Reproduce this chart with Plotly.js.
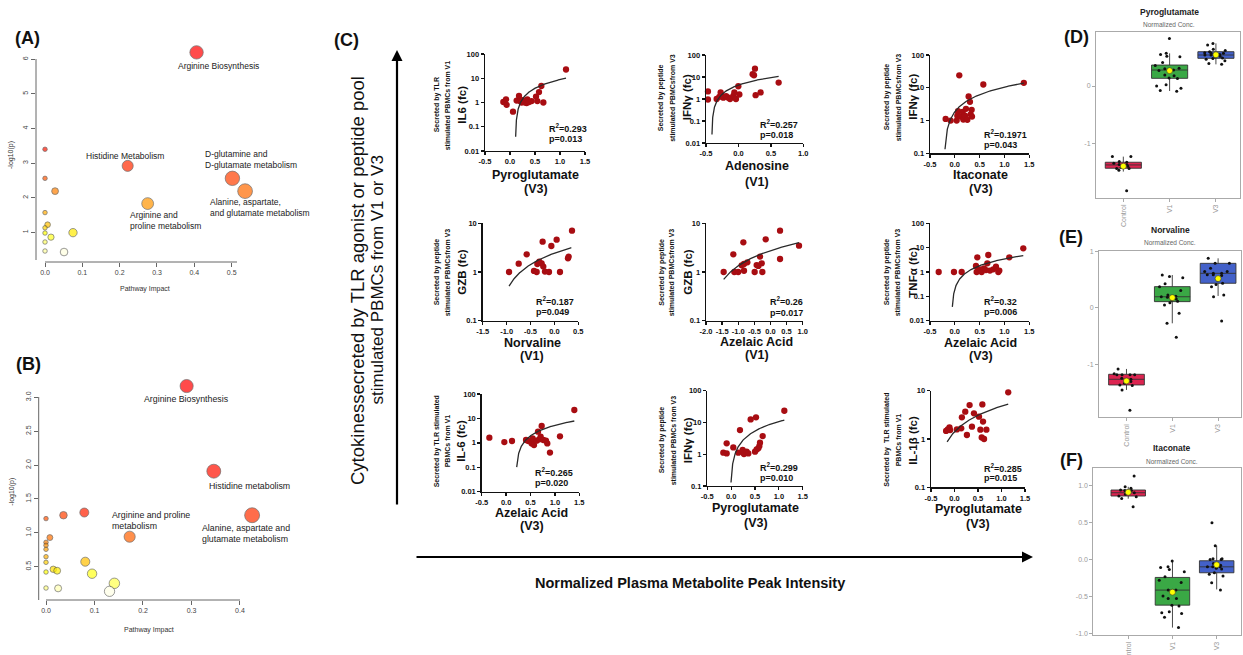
<!DOCTYPE html>
<html><head><meta charset="utf-8">
<script src="https://cdn.plot.ly/plotly-3.0.1.min.js"></script>
<style>html,body{margin:0;padding:0;background:#fff;}#chart{width:1243px;height:655px;}</style>
</head><body><div id="chart"></div>
<script>
// ================= DATA =================
// Panel A (pathway analysis 1)
const aImpact = [0.406,0.2215,0.502,0.536,0.275,0,0,0.027,0,0.007,0,0,0.016,0.075,0,0,0.051];
const aLogP   = [6.20,2.92,2.56,2.19,1.83,3.40,2.56,2.19,1.57,1.22,1.13,0.98,0.86,0.99,0.72,0.46,0.43];
const aLabels = ['Arginine Biosynthesis','Histidine Metabolism','D-glutamine and<br>D-glutamate metabolism','Alanine, aspartate,<br>and glutamate metabolism','Arginine and<br>proline metabolism'];
const aXTicks = [0,0.1,0.2,0.3,0.4,0.5];
const aYTicks = [1,2,3,4,5,6];
// Panel B (pathway analysis 2)
const bImpact = [0.290,0.346,0.425,0.1725,0.036,0.079,0,0.008,0,0,0,0,0,0,0.015,0.023,0.081,0.095,0.141,0.131,0,0.025];
const bLogP   = [3.167,1.91,1.26,0.943,1.26,1.30,1.21,0.93,0.86,0.816,0.757,0.648,0.565,0.422,0.462,0.441,0.574,0.397,0.255,0.137,0.186,0.181];
const bLabels = ['Arginine Biosynthesis','Histidine metabolism','Arginine and proline<br>metabolism','Alanine, aspartate and<br>glutamate metabolism'];
const bXTicks = [0,0.1,0.2,0.3,0.4];
const bYTicks = [0.5,1.0,1.5,2.0,2.5,3.0];

// Panel C correlations
const c1X = [-0.133,-0.08,-0.067,0.06,0.133,0.18,0.2,0.233,0.253,0.30,0.333,0.347,0.38,0.433,0.52,0.547,0.58,0.627,0.667,1.12];
const c1Y = [1.05,1.35,0.8,0.42,1.2,1.85,1.15,1.0,1.25,1.0,0.95,1.35,1.05,1.15,1.75,1.15,2.7,4.8,1.0,23];
const c2X = [-0.47,-0.47,-0.336,-0.295,-0.274,-0.259,-0.233,-0.19,-0.156,-0.13,-0.079,-0.063,-0.038,-0.002,0.014,0.219,0.24,0.255,0.265,0.342,0.62];
const c2Y = [2.2,0.95,1.0,1.25,2.0,1.45,1.15,1.35,1.15,1.0,1.4,2.0,1.0,3.8,1.6,13.5,12,24,1.5,2.0,5.6];
const c3X = [-0.185,-0.084,0.037,0.05,0.064,0.09,0.117,0.158,0.171,0.205,0.225,0.252,0.278,0.305,0.319,0.339,0.346,0.574,1.39];
const c3Y = [1.12,1.0,1.0,1.41,1.93,23.9,1.32,1.84,1.07,1.42,2.28,1.05,5.43,3.72,1.53,2.12,1.32,12.6,14.2];
const c4X = [-0.949,-0.747,-0.58,-0.427,-0.371,-0.357,-0.315,-0.267,-0.246,-0.232,-0.197,-0.113,-0.064,0.047,0.117,0.284,0.298,0.368];
const c4Y = [1.0,1.48,2.31,1.05,1.0,1.46,1.63,1.51,4.2,1.29,1.02,1.0,3.42,4.61,1.0,1.91,2.07,7.06];
const c5X = [-1.452,-1.152,-1.121,-1.0,-0.893,-0.841,-0.821,-0.821,-0.717,-0.49,-0.428,-0.376,-0.324,-0.272,-0.252,-0.148,0.297,0.297,0.886];
const c5Y = [1.0,2.31,1.0,1.0,1.37,4.07,1.46,1.06,1.58,1.0,1.39,1.33,2.07,1.51,1.0,4.69,7.06,1.85,3.48];
const c6X = [-0.325,-0.017,0.138,0.426,0.44,0.453,0.507,0.54,0.587,0.628,0.654,0.674,0.708,0.775,0.829,0.876,0.896,1.097,1.379];
const c6Y = [1.0,1.0,1.0,1.77,1.0,4.0,1.29,1.0,1.41,1.2,2.27,5.0,1.14,1.29,1.66,1.0,1.14,4.0,9.4];
const c7X = [-0.343,-0.036,0.121,0.408,0.456,0.524,0.544,0.572,0.626,0.654,0.681,0.708,0.729,0.763,0.817,0.844,0.899,1.104,1.398];
const c7Y = [1.63,1.08,1.19,1.31,1.19,0.95,1.53,0.81,1.23,2.86,1.39,1.78,4.9,1.31,1.23,0.95,0.4,1.85,22.1];
const c8X = [-0.164,-0.094,-0.094,0.045,0.15,0.185,0.241,0.269,0.325,0.36,0.409,0.5,0.521,0.535,0.57,0.591,0.605,0.661,1.115];
const c8Y = [1.12,1.06,2.2,1.64,1.12,5.78,1.36,1.01,1.2,1.06,12.5,1.2,14.5,1.42,1.53,1.81,2.31,3.74,23.4];
const c9X = [-0.179,-0.143,-0.107,-0.093,0.05,0.143,0.157,0.229,0.264,0.321,0.371,0.414,0.521,0.55,0.579,0.593,0.607,0.629,0.679,1.143];
const c9Y = [1.47,1.58,1.74,1.53,1.58,1.66,2.81,3.68,1.21,5.05,1.8,3.4,2.9,1.56,1.08,5.21,2.29,1.0,1.56,9.25];

const cMetabolite = ['Pyroglutamate','Adenosine','Itaconate','Norvaline','Azelaic Acid','Azelaic Acid','Azelaic Acid','Pyroglutamate','Pyroglutamate'];
const cVisit = ['(V3)','(V1)','(V3)','(V1)','(V1)','(V3)','(V3)','(V3)','(V3)'];
const cCytokine = ['IL6 (fc)','IFNγ (fc)','IFNγ (fc)','GZB (fc)','GZB (fc)','TNFα (fc)','IL-6 (fc)','IFNγ (fc)','IL-1β (fc)'];
const cSource1 = ['Secreted by TLR','Secreted by peptide','Secreted by peptide','Secreted by peptide','Secreted by peptide','Secreted by peptide','Secreted by TLR stimulated','Secreted by peptide','Secreted by  TLR stimulated'];
const cSource2 = ['stimulated PBMCs from V1','stimulated PBMCsfrom V3','stimulated PBMCsfrom V3','stimulated PBMCsfrom V3','stimulated PBMCsfrom V3','stimulated PBMCsfrom V3','PBMCs from V1','stimulated PBMCs from V3','PBMCs from V1'];
const cR2 = ['0.293','0.257','0.1971','0.187','0.26','0.32','0.265','0.299','0.285'];
const cP  = ['0.013','0.018','0.043','0.049','0.017','0.006','0.020','0.010','0.015'];
const cFitSlope     = [9.9,10.48,8.67,2.03,1.409,3.256,6.55,10.53,3.4];
const cFitIntercept = [-1.08,4.3,1.85,2.44,2.752,0.20,-1.32,0.16,1.41];
const cFitFrom = [0.113,-0.408,-0.198,-0.949,-1.452,-0.05,0.217,-0.003,-0.157];
const cFitTo   = [1.12,0.62,1.39,0.354,0.886,1.379,1.398,1.115,1.143];
const cXRange  = [[-0.5,1.5],[-0.5,1.0],[-0.5,1.5],[-1.5,0.5],[-2.0,1.0],[-0.5,1.5],[-0.5,1.5],[-0.5,1.5],[-0.5,1.5]];
const cYDecades = [[-2,2],[-2,2],[-1,2],[-1,1],[-1,1],[-2,2],[-2,2],[-1,2],[-1,1]];
const cYTickLabels = {'-2':'0.01','-1':'0.1','0':'1','1':'10','2':'100'};

// Panels D/E/F box plots
const groups = ['Control','V1','V3'];
const dControl = [-1.23,-1.23,-1.32,-1.33,-1.35,-1.37,-1.38,-1.39,-1.40,-1.42,-1.44,-1.44,-1.47,-1.83];
const dV1 = [0.83,0.57,0.55,0.52,0.51,0.41,0.36,0.31,0.30,0.28,0.27,0.19,0.18,0.14,0.13,0.02,0.0,-0.04,-0.08,-0.09];
const dV3 = [0.744,0.715,0.64,0.62,0.60,0.58,0.57,0.57,0.55,0.54,0.54,0.52,0.51,0.49,0.48,0.465,0.44,0.395,0.378];
const dQ1 = [-1.436,0.134,0.483], dMed = [-1.378,0.279,0.541], dQ3 = [-1.331,0.366,0.599], dLo = [-1.494,-0.087,0.378], dHi = [-1.233,0.57,0.744];
const eControl = [-1.086,-1.17,-1.19,-1.19,-1.19,-1.19,-1.25,-1.27,-1.28,-1.31,-1.34,-1.37,-1.38,-1.46,-1.82];
const eV1 = [0.587,0.56,0.54,0.43,0.38,0.31,0.23,0.21,0.20,0.19,0.16,0.14,0.12,0.095,0.053,-0.095,-0.273,-0.52];
const eV3 = [0.884,0.795,0.795,0.706,0.65,0.65,0.617,0.617,0.59,0.59,0.58,0.50,0.44,0.42,0.38,0.23,0.20,-0.23];
const eQ1 = [-1.371,0.113,0.44], eMed = [-1.27,0.20,0.617], eQ3 = [-1.181,0.38,0.795], eLo = [-1.46,-0.273,0.214], eHi = [-1.086,0.587,0.884];
const fControl = [1.126,0.98,0.96,0.937,0.93,0.93,0.90,0.90,0.88,0.856,0.847,0.824,0.71];
const fV1 = [-0.02,-0.10,-0.11,-0.135,-0.167,-0.234,-0.28,-0.31,-0.414,-0.414,-0.495,-0.527,-0.527,-0.617,-0.63,-0.707,-0.72,-0.73,-0.78,-0.92];
const fV3 = [0.495,0.185,0.01,0.01,0.0,0.0,-0.054,-0.077,-0.10,-0.10,-0.10,-0.12,-0.13,-0.18,-0.20,-0.225,-0.315,-0.414];
const fQ1 = [0.856,-0.617,-0.18], fMed = [0.90,-0.414,-0.10], fQ3 = [0.937,-0.243,-0.018], fLo = [0.82,-0.92,-0.405], fHi = [0.98,-0.02,0.185];
const dYTicks = [-1,0], eYTicks = [-1,0,1], fYTicks = [-1,-0.5,0,0.5,1];

// ================= LAYOUT HELPERS =================
const W = 1243, H = 655;
const fx = v => v / W, fy = v => 1 - v / H;
const FONT = 'Liberation Sans, Arial, Helvetica, sans-serif';
const traces = [];
const ann = [];
const shapes = [];
const layout = {
  width: W, height: H, margin: {l:0, r:0, t:0, b:0},
  paper_bgcolor: '#ffffff', plot_bgcolor: 'rgba(0,0,0,0)',
  showlegend: false, font: {family: FONT, color: '#222'}, annotations: ann, shapes: shapes, boxmode: 'overlay'
};
function text(t, x, y, o) {
  ann.push(Object.assign({text: t, x: fx(x), y: fy(y), xref: 'paper', yref: 'paper', showarrow: false,
    xanchor: 'center', yanchor: 'middle', font: {family: FONT, size: 8, color: '#222'}}, o || {}));
}
function pline(x0, y0, x1, y1, color, w) {
  shapes.push({type: 'line', xref: 'paper', yref: 'paper', x0: fx(x0), y0: fy(y0), x1: fx(x1), y1: fy(y1),
    line: {color: color, width: w}});
}

// R heat.colors palette
function hsv60(h, s) { const r = 255, g = 255 * (1 - s + s * h / 60), b = 255 * (1 - s); return `rgb(${Math.round(r)},${Math.round(g)},${Math.round(b)})`; }
function heatColors(n) {
  const j = Math.floor(n / 4), i = n - j, cols = [];
  for (let k = 0; k < i; k++) cols.push(hsv60(i > 1 ? 60 * k / (i - 1) : 0, 1));
  const s0 = 1 - 1 / (2 * j), s1 = 1 / (2 * j);
  for (let k = 0; k < j; k++) cols.push(hsv60(60, j > 1 ? s0 + (s1 - s0) * k / (j - 1) : s0));
  return cols;
}
function rankColors(logp) {
  const order = logp.map((v, i) => i).sort((a, b) => logp[b] - logp[a]);
  const pal = heatColors(logp.length), out = new Array(logp.length);
  order.forEach((idx, k) => out[idx] = pal[k]);
  return out;
}

// ================= PANELS A & B =================
function pathwayPanel(id, impact, logp, box, xr, yr, xt, yt, xdec, sizeK) {
  const sfx = id === 1 ? '' : String(id);
  traces.push({type: 'scatter', mode: 'markers', x: impact, y: logp, xaxis: 'x' + sfx, yaxis: 'y' + sfx,
    cliponaxis: false, hoverinfo: 'skip',
    marker: {size: impact.map(v => 4.5 + sizeK * Math.sqrt(v)), color: rankColors(logp), line: {color: '#333', width: 0.7}}});
  const common = {showline: false, ticks: 'outside', ticklen: 4, tickcolor: '#666', tickwidth: 1,
    showgrid: false, zeroline: false, tickfont: {family: FONT, size: 7, color: '#444'}, fixedrange: true};
  layout['xaxis' + sfx] = Object.assign({}, common, {domain: [fx(box[0]), fx(box[1])], range: xr, anchor: 'y' + sfx,
    tickmode: 'array', tickvals: xt, ticktext: xt.map(v => v.toFixed(1))});
  layout['yaxis' + sfx] = Object.assign({}, common, {domain: [fy(box[3]), fy(box[2])], range: yr, anchor: 'x' + sfx,
    tickmode: 'array', tickvals: yt, ticktext: yt.map(v => v.toFixed(xdec)), tickangle: -90});
}
pathwayPanel(1, aImpact, aLogP, [36, 262, 45, 262], [-0.0241, 0.5813], [0.142, 6.413], aXTicks, aYTicks, 0, 14);
pathwayPanel(2, bImpact, bLogP, [38.7, 262, 380, 600], [-0.01505, 0.4454], [0.0089, 3.256], bXTicks, bYTicks, 1, 16);
// R-style axis lines (span of the ticks)
pline(45, 262, 237, 262, '#666', 1); pline(36, 59, 36, 260, '#666', 1);
pline(46, 600, 240, 600, '#666', 1); pline(38.7, 397, 38.7, 600, '#666', 1);

const lblA = {font: {family: FONT, size: 8.5, color: '#222'}};
text(aLabels[0], 218.3, 65.7, lblA);
text(aLabels[1], 125, 155.7, lblA);
text(aLabels[2], 203.3, 159.2, Object.assign({xanchor: 'left', align: 'left'}, lblA));
text(aLabels[3], 208.3, 207.5, Object.assign({xanchor: 'left', align: 'left'}, lblA));
text(aLabels[4], 127.7, 220.2, Object.assign({xanchor: 'left', align: 'left'}, lblA));
const lblB = {font: {family: FONT, size: 8.8, color: '#222'}};
text(bLabels[0], 186.7, 399, lblB);
text(bLabels[1], 249, 486, lblB);
text(bLabels[2], 110, 520, Object.assign({xanchor: 'left', align: 'left'}, lblB));
text(bLabels[3], 200, 533.8, Object.assign({xanchor: 'left', align: 'left'}, lblB));
const axT = {font: {family: FONT, size: 7, color: '#333'}};
text('-log10(p)', 11, 155, Object.assign({textangle: -90}, axT));
text('Pathway Impact', 145, 289, axT);
text('-log10(p)', 12, 491.7, Object.assign({textangle: -90}, axT));
text('Pathway Impact', 149, 630, axT);
const panelF = {font: {family: FONT, size: 18, color: '#111', weight: 'bold'}};
text('(A)', 27.5, 38, panelF);
text('(B)', 28, 364, panelF);
text('(C)', 346, 40, panelF);
text('(D)', 1076, 36.7, panelF);
text('(E)', 1071, 236.7, panelF);
text('(F)', 1071, 460, panelF);

// ================= PANEL C =================
const cXs = [c1X, c2X, c3X, c4X, c5X, c6X, c7X, c8X, c9X];
const cYs = [c1Y, c2Y, c3Y, c4Y, c5Y, c6Y, c7Y, c8Y, c9Y];
// geometry (pixels): [xLeft, xRight, yTop, yBottom]
const cBox = [[485,585,54,151],[706,803.3,55,143],[930,1029.3,55,153.3],[482.7,578.3,223.3,320.7],[706,802.7,223.3,320.7],[930,1029.3,223.3,320.7],[481.7,579.3,394,491.7],[707.3,802.7,390.7,486],[931,1025,390.7,487.3]];
const cYTitleX = [[437.3,448.3,461.7],[661.7,672.3,687.7],[887.3,898.3,912.7],[437.3,448.3,461.7],[661.7,672.3,687.7],[887.3,898.3,912.7],[437.3,447.3,460.7],[662.3,673.3,688.3],[886.7,898.3,912.7]];
const cYTitleY = [105, 97.5, 97, 272, 272, 272, 441, 440, 440];
const cXTitleX = [535.5, 756.7, 980.7, 532.3, 756.7, 980.7, 531.7, 756, 978.3];
const cXTitleY = [[175,189.3],[166,181.7],[175,189.3],[342.7,356],[341.7,355],[342.7,356],[513.3,526],[508.3,523.3],[509.3,524]];
const cStatX = [546.7, 758.3, 981.7, 534, 768.3, 981.7, 533.3, 758.3, 981.7];
const cStatY = [[128.3,139],[124,135],[134,144.5],[301,312.3],[301,312.7],[300.7,312.3],[471.7,483.3],[467.3,477.7],[468.3,478.3]];

const boldTick = {family: FONT, size: 7.5, color: '#111', weight: 'bold'};
for (let i = 0; i < 9; i++) {
  const n = i + 3, xs = 'x' + n, ys = 'y' + n, b = cBox[i];
  traces.push({type: 'scatter', mode: 'markers', x: cXs[i], y: cYs[i], xaxis: xs, yaxis: ys, cliponaxis: false, hoverinfo: 'skip',
    marker: {size: 6.3, color: '#a80d12'}});
  // linear regression line drawn on the log axis
  const fxv = [], fyv = [];
  for (let k = 0; k <= 240; k++) {
    const t = k / 240, xv = cFitFrom[i] + (cFitTo[i] - cFitFrom[i]) * t * t;
    const yv = cFitIntercept[i] + cFitSlope[i] * xv;
    if (yv > 0) { fxv.push(xv); fyv.push(yv); }
  }
  traces.push({type: 'scatter', mode: 'lines', x: fxv, y: fyv, xaxis: xs, yaxis: ys, hoverinfo: 'skip',
    line: {color: '#2a2a2a', width: 1.3}});
  const xr = cXRange[i], xt = [];
  for (let k = 0; xr[0] + k * 0.5 <= xr[1] + 1e-9; k++) xt.push(xr[0] + k * 0.5);
  const yd = cYDecades[i], yt = [], ytt = [];
  for (let e = yd[0]; e <= yd[1]; e++) { yt.push(Math.pow(10, e)); ytt.push(cYTickLabels[String(e)]); }
  const common = {showline: true, linecolor: '#111', linewidth: 1.4, ticks: 'outside', ticklen: 3, tickwidth: 1.3, tickcolor: '#111',
    showgrid: false, zeroline: false, tickfont: boldTick, fixedrange: true};
  layout['xaxis' + n] = Object.assign({}, common, {domain: [fx(b[0]), fx(b[1])], range: xr, anchor: ys,
    tickmode: 'array', tickvals: xt, ticktext: xt.map(v => v.toFixed(1))});
  layout['yaxis' + n] = Object.assign({}, common, {domain: [fy(b[3]), fy(b[2])], type: 'log', range: yd, anchor: xs,
    tickmode: 'array', tickvals: yt, ticktext: ytt});
  const tx = cYTitleX[i];
  text(cSource1[i], tx[0], cYTitleY[i], {textangle: -90, font: {family: FONT, size: 7, color: '#111', weight: 'bold'}});
  text(cSource2[i], tx[1], cYTitleY[i], {textangle: -90, font: {family: FONT, size: 7, color: '#111', weight: 'bold'}});
  text(cCytokine[i], tx[2], cYTitleY[i], {textangle: -90, font: {family: FONT, size: 11.5, color: '#111', weight: 'bold'}});
  text(cMetabolite[i], cXTitleX[i], cXTitleY[i][0], {font: {family: FONT, size: 12.5, color: '#111', weight: 'bold'}});
  text(cVisit[i], cXTitleX[i], cXTitleY[i][1], {font: {family: FONT, size: 12.5, color: '#111', weight: 'bold'}});
  text('R<sup>2</sup>=' + cR2[i], cStatX[i], cStatY[i][0], {xanchor: 'left', font: {family: FONT, size: 9, color: '#111', weight: 'bold'}});
  text('p=' + cP[i], cStatX[i], cStatY[i][1], {xanchor: 'left', font: {family: FONT, size: 9, color: '#111', weight: 'bold'}});
}
// arrows and shared labels of panel C
ann.push({x: fx(397), y: fy(50), xref: 'paper', yref: 'paper', ax: 0, ay: 456, axref: 'pixel', ayref: 'pixel', text: '',
  showarrow: true, arrowhead: 2, arrowsize: 1, arrowwidth: 2.2, arrowcolor: '#000'});
ann.push({x: fx(1033), y: fy(557), xref: 'paper', yref: 'paper', ax: -618, ay: 0, axref: 'pixel', ayref: 'pixel', text: '',
  showarrow: true, arrowhead: 2, arrowsize: 1, arrowwidth: 2.2, arrowcolor: '#000'});
text('Cytokinessecreted by TLR agonist or peptide pool', 357, 281, {textangle: -90, font: {family: FONT, size: 18.5, color: '#111'}});
text('stimulated PBMCs from V1 or V3', 376.5, 280, {textangle: -90, font: {family: FONT, size: 17, color: '#111'}});
text('Normalized Plasma Metabolite Peak Intensity', 690, 583, {font: {family: FONT, size: 14.5, color: '#111', weight: 'bold'}});

// ================= PANELS D, E, F =================
const boxColors = ['#dc2450', '#3aa845', '#4361c9'];
function boxPanel(n, title, pts, q1, med, q3, lo, hi, box, yr, catRange, yt, ydec, titleX, titleY) {
  const xs = 'x' + n, ys = 'y' + n;
  for (let g = 0; g < 3; g++) {
    traces.push({type: 'box', x: [groups[g]], q1: [q1[g]], median: [med[g]], q3: [q3[g]], lowerfence: [lo[g]], upperfence: [hi[g]],
      xaxis: xs, yaxis: ys, boxpoints: false, width: 0.78, whiskerwidth: 0, fillcolor: boxColors[g],
      line: {color: '#333', width: 0.9}, hoverinfo: 'skip'});
    traces.push({type: 'box', x: pts[g].map(() => groups[g]), y: pts[g], xaxis: xs, yaxis: ys, boxpoints: 'all', jitter: 0.85, pointpos: 0,
      width: 0.78, fillcolor: 'rgba(0,0,0,0)', line: {color: 'rgba(0,0,0,0)', width: 0}, whiskerwidth: 0,
      marker: {color: '#111', size: 3}, hoverinfo: 'skip'});
  }
  traces.push({type: 'scatter', mode: 'markers', x: groups, y: pts.map(a => a.reduce((s, v) => s + v, 0) / a.length),
    xaxis: xs, yaxis: ys, hoverinfo: 'skip', cliponaxis: false,
    marker: {color: '#ffff00', size: 6, line: {color: '#333', width: 0.6}}});
  const common = {showline: true, mirror: true, linecolor: '#aaa', linewidth: 1, ticks: 'outside', ticklen: 3, tickcolor: '#aaa',
    showgrid: false, zeroline: false, fixedrange: true, tickfont: {family: FONT, size: 7, color: '#999'}};
  layout['xaxis' + n] = Object.assign({}, common, {domain: [fx(box[0]), fx(box[1])], type: 'category', categoryorder: 'array',
    categoryarray: groups, range: catRange, anchor: ys, tickangle: -90});
  layout['yaxis' + n] = Object.assign({}, common, {domain: [fy(box[3]), fy(box[2])], range: yr, anchor: xs,
    tickmode: 'array', tickvals: yt, ticktext: yt.map(v => v.toFixed(ydec))});
  text(title, titleX, titleY, {font: {family: FONT, size: 8.5, color: '#222', weight: 'bold'}});
  text('Normalized Conc.', titleX, titleY + 12.8, {font: {family: FONT, size: 6.5, color: '#666'}});
}
boxPanel(12, 'Pyroglutamate', [dControl, dV1, dV3], dQ1, dMed, dQ3, dLo, dHi, [1096, 1240, 31.7, 197.7], [-1.95, 0.948], [-0.59, 2.52], dYTicks, 0, 1169, 11.7);
boxPanel(13, 'Norvaline', [eControl, eV1, eV3], eQ1, eMed, eQ3, eLo, eHi, [1099, 1241, 250.7, 417.3], [-1.947, 1.02], [-0.6, 2.5], eYTicks, 0, 1170, 230);
boxPanel(14, 'Itaconate', [fControl, fV1, fV3], fQ1, fMed, fQ3, fLo, fHi, [1093.3, 1241, 468.3, 635], [-1.02, 1.23], [-0.79, 2.55], fYTicks, 1, 1171.7, 448.3);

Plotly.newPlot('chart', traces, layout, {staticPlot: true, displayModeBar: false});
</script>
</body></html>
